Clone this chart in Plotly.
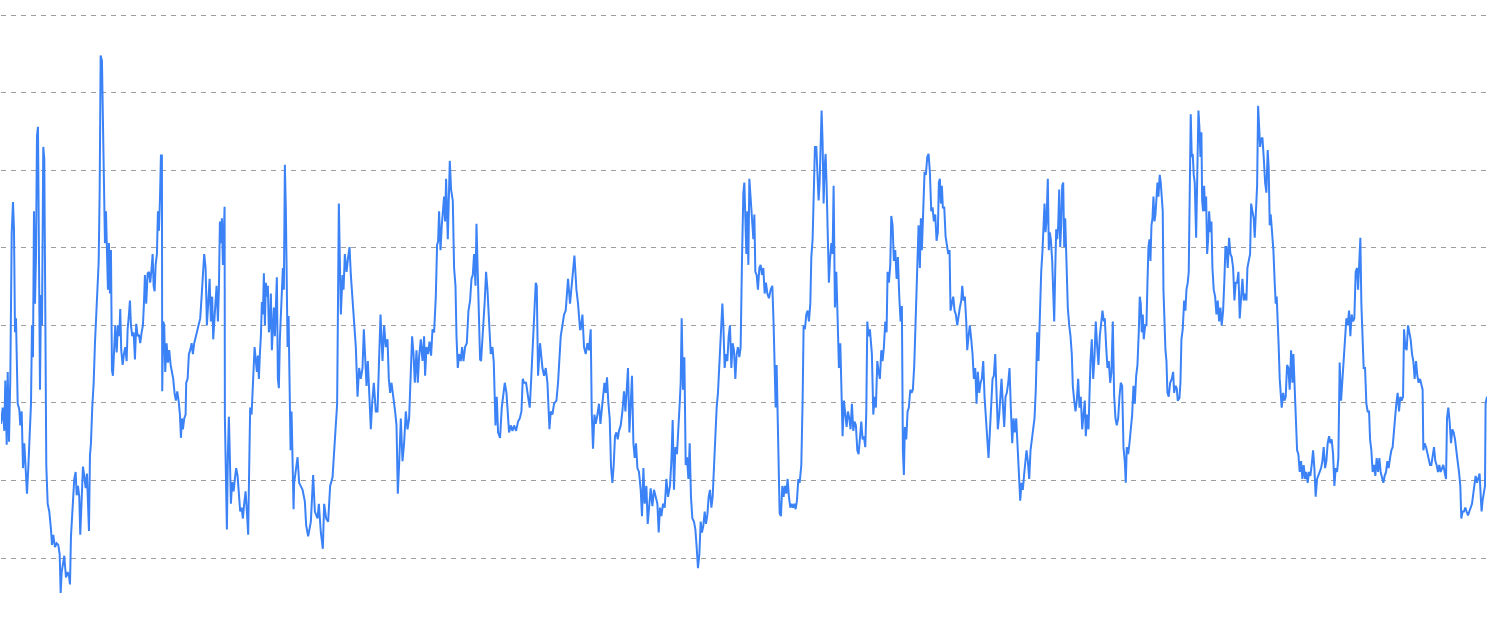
import plotly.graph_objects as go

seg_a = [(0,27.3),(1.7,29.4),(3.3,26.4),(4.3,32.9),(5.7,24.6),(6.7,34.0),(8.0,25.0),(9.3,33.1),(10.7,51.8),(12.0,55.9),(13.0,52.4),(14.0,39.1),(15.0,40.9),(15.7,35.4),(16.7,29.9),(18.3,29.2),(19.3,27.1),(20.7,28.9),(22.0,21.6),(23.3,24.8),(24.7,21.1),(26.0,18.3),(27.3,21.6),(28.7,27.1),(30.0,29.9),(31.0,40.0),(32.0,35.9),(33.0,54.7),(34.0,42.8),(35.0,48.8),(36.0,64.4),(37.0,65.6),(38.0,44.6),(39.0,31.7),(40.0,43.9),(41.0,40.0),(42.3,63.0),(43.3,61.4),(44.3,42.3),(45.3,22.0),(46.7,17.0),(48.3,16.0),(50.0,13.7),(51.0,11.7),(52.3,13.0),(54.0,11.4),(55.7,11.9),(57.3,11.7),(58.7,10.5),(59.7,5.5),(60.7,8.2),(62.0,9.6),(63.3,10.3),(65.0,7.5),(66.7,8.2),(68.0,7.7),(69.0,6.6),(70.0,12.8),(71.0,15.6),(72.3,17.4),(73.3,20.2),(74.7,21.1),(75.7,18.1),(77.0,19.3),(78.3,17.9),(79.3,13.0),(80.7,17.0),(82.0,21.8),(83.3,20.6),(84.7,19.0),(86.0,20.9),(87.0,15.1),(88.0,13.5),(89.0,23.2),(90.0,24.8),(91.3,29.4),(92.7,32.6),(94.0,37.7),(95.3,40.9),(96.7,44.6),(97.7,48.1),(98.7,57.1),(99.7,74.8),(101.0,74.1),(102.0,64.4),(103.0,57.5),(104.0,50.6),(105.0,54.7),(106.0,49.2),(107.0,44.6),(108.0,50.6),(109.0,44.1),(110.0,49.7),(111.0,34.2),(112.0,33.5),(113.3,37.2),(114.3,40.0),(115.7,36.5),(117.0,40.0),(118.3,38.6),(119.3,42.1),(120.3,36.8),(121.7,34.9),(123.0,36.3),(124.3,37.2),(125.7,35.4),(126.7,39.5),(128.0,41.4),(129.0,43.2),(130.0,40.0),(131.3,38.6),(132.7,39.1),(134.0,35.6),(135.3,40.2),(136.7,38.6),(138.0,38.8),(139.3,37.7),(140.7,39.1),(142.0,40.0),(143.0,42.8),(144.0,46.5),(145.3,42.8),(146.7,46.7),(148.0,46.9),(149.3,45.5),(150.7,47.4),(151.7,49.2),(152.7,45.1),(153.7,44.4),(154.7,47.8),(156.0,49.2),(157.0,54.7),(158.0,52.2),(159.0,56.1),(160.0,61.9),(161.0,61.9),(161.3,31.5),(162.3,40.5),(163.3,40.0),(164.3,34.0),(165.7,37.7),(167.0,35.2),(168.3,36.8),(169.7,34.9),(171.0,34.0),(172.3,33.1),(173.7,31.2),(175.0,30.3),(176.3,31.5),(177.7,30.3),(179.0,28.5),(180.0,25.5),(181.0,28.0),(182.0,26.6),(183.3,28.0),(184.7,28.5),(185.3,32.6),(186.7,33.1),(188.0,36.3),(189.3,36.8),(190.7,37.7),(192.0,36.3),(193.3,37.7),(195.0,38.6),(196.7,39.5),(198.0,40.5),(199.3,40.9),(200.7,43.7),(202.0,46.5),(203.3,49.2),(204.7,47.4),(206.0,40.0),(207.3,42.8),(208.7,46.0),(210.0,40.5),(211.3,43.7),(212.3,38.2),(213.3,40.9),(214.7,43.2),(215.7,45.1),(217.0,40.5),(218.0,44.6),(219.0,53.4),(220.0,50.6),(221.0,53.8),(222.0,47.8),(223.0,55.2),(223.7,55.3),(224.0,28.0),(225.0,18.8),(226.0,13.7),(227.0,23.4),(228.0,28.2),(229.0,22.9),(230.0,17.0),(231.3,19.8),(232.7,18.6),(234.0,20.2),(235.3,21.6),(236.7,20.6),(238.0,18.8),(239.3,16.0),(240.7,16.5),(242.0,15.1),(243.3,17.0),(244.7,18.6),(246.0,16.0),(247.3,13.0),(248.3,21.6),(249.3,29.4),(250.7,28.5),(251.7,31.7),(252.7,33.5),(253.7,37.2),(255.0,35.4),(256.0,34.0),(257.0,36.1),(258.0,33.1),(259.0,36.3),(260.0,38.6),(261.0,43.0),(262.0,41.4),(263.0,46.7),(264.0,40.0),(265.0,45.5),(266.0,43.7),(267.0,45.1),(268.0,39.1),(269.0,40.0),(270.0,44.1),(271.0,36.8),(272.0,40.9),(273.0,42.3),(274.0,38.6),(275.0,41.9),(276.0,46.2),(277.0,33.1),(278.0,31.9),(279.0,38.2),(280.0,41.9),(281.0,44.6),(282.0,47.4),(283.0,44.6),(284.0,60.7),(285.0,54.7),(285.7,46.5),(286.7,37.2),(287.7,41.2),(288.7,33.5),(289.7,23.9),(290.7,28.9),(291.7,19.7),(292.7,16.3)]

seg_b = [(293.3,19.7),(296.7,23.0),(298.3,19.7),(301.7,18.8),(304.0,17.3),(305.3,14.2),(307.3,12.8),(310.0,14.7),(312.3,20.7),(314.0,16.0),(316.7,15.1),(318.0,17.0),(320.0,13.3),(322.0,11.2),(323.3,17.0),(325.3,15.1),(327.3,14.7),(329.3,19.3),(331.7,20.4),(333.3,24.3),(334.7,27.1),(336.3,29.9),(338.0,55.7),(340.0,41.4),(341.7,46.5),(342.7,44.6),(344.0,49.2),(345.7,46.9),(347.3,48.8),(348.7,50.1),(350.0,46.5),(351.3,44.1),(353.3,40.0),(355.0,37.2),(356.7,30.8),(358.3,34.5),(360.0,33.1),(361.7,34.5),(363.0,39.5),(364.3,36.3),(365.7,32.2),(367.0,35.4),(368.3,31.7),(370.0,26.6),(371.3,29.9),(373.0,32.6),(375.0,28.9),(376.7,28.9),(378.0,34.5),(379.7,41.4),(381.7,35.4),(383.3,40.0),(385.0,37.2),(386.7,38.2),(388.0,33.1),(389.3,31.3),(390.7,32.6),(392.7,30.8),(394.3,28.9),(395.7,27.1),(397.0,18.3),(398.3,22.0),(400.0,28.0),(401.7,22.5),(403.3,24.8),(405.0,28.9),(406.7,26.6),(408.3,28.0),(410.0,34.5),(411.3,38.6),(412.7,36.3),(414.0,32.6),(415.7,36.8),(417.0,32.6),(418.3,35.9),(420.0,38.2),(421.7,35.4),(423.3,38.6),(424.3,33.5),(425.7,37.2),(427.3,36.3),(428.7,37.9),(430.3,36.1),(431.7,39.5),(433.3,39.1),(435.0,43.7),(436.3,50.4),(437.3,50.8),(438.3,54.7),(439.7,49.7),(441.0,52.9),(442.3,55.2),(443.3,56.6),(444.3,53.4),(445.3,58.9),(447.0,51.1),(448.0,56.1),(449.0,61.2),(450.3,57.5),(452.0,56.1),(453.3,47.4),(454.7,45.1),(455.7,38.6),(457.0,34.5),(458.3,36.3),(460.0,35.4),(461.3,37.2),(462.7,35.4),(464.3,37.2),(466.0,37.7),(467.7,41.9),(469.3,43.2),(470.7,46.0),(472.0,46.5),(473.3,49.2),(474.7,45.1),(475.7,53.1),(477.0,46.9),(478.0,41.9),(479.3,35.6),(480.3,35.4),(481.3,37.2),(482.7,40.9),(484.0,43.2),(485.3,46.9),(486.7,44.6),(488.3,40.5),(490.0,36.3),(491.7,37.2),(493.0,35.2),(494.7,27.1),(496.0,30.8),(497.3,26.2),(499.3,25.5),(501.0,29.4),(502.7,31.7),(504.0,32.6),(505.7,31.3),(508.3,26.2),(510.0,27.1),(511.7,26.4),(513.3,27.1),(515.3,26.4),(517.3,27.6),(519.0,28.0),(520.7,28.9),(522.0,33.1),(523.3,32.6),(525.3,32.6),(527.3,30.8),(529.0,29.4),(530.0,31.9),(531.7,36.3),(533.3,40.0),(535.0,45.5),(536.0,45.1),(537.3,33.5),(539.3,37.7),(541.7,34.5),(543.3,33.5),(545.0,34.5),(546.7,32.6),(548.7,26.6),(550.0,28.9),(551.7,28.5),(553.3,29.9),(555.7,30.3),(557.3,32.6),(558.7,35.4),(560.0,38.6),(561.7,40.0),(563.3,41.4),(565.0,41.9),(567.3,46.0),(569.3,42.8),(571.0,45.1),(572.0,46.5),(573.7,49.0),(575.7,44.6),(577.3,42.8),(579.3,39.5)]

seg_c = [(580.0,39.5),(581.7,41.4),(583.3,37.2),(585.0,36.3),(586.7,37.7),(588.3,36.8),(590.0,39.5),(591.0,28.9),(592.3,24.1),(593.7,28.5),(595.0,27.3),(596.7,28.5),(598.3,29.9),(599.7,27.3),(601.0,29.4),(602.3,31.3),(603.7,32.6),(605.0,31.3),(606.3,33.3),(607.7,29.9),(609.0,28.0),(610.3,21.8),(611.7,19.7),(613.0,22.0),(614.3,25.7),(615.7,26.2),(617.0,25.3),(618.3,26.4),(620.0,27.1),(621.7,28.9),(623.3,31.5),(624.7,28.9),(626.0,32.2),(627.3,34.5),(628.7,26.2),(630.0,30.3),(631.3,33.5),(632.7,24.8),(634.0,22.9),(635.3,24.8),(636.7,21.6),(638.3,21.1),(640.0,18.8),(641.3,15.4),(642.7,21.6),(644.0,17.0),(645.7,19.3),(647.0,14.4),(648.3,16.0),(650.0,19.0),(651.7,16.7),(653.3,18.8),(655.0,17.9),(656.7,17.0),(658.0,13.3),(659.3,16.5),(660.7,15.4),(662.3,17.0),(664.0,16.5),(665.7,20.2),(667.3,17.9),(669.3,19.3),(670.7,22.5),(672.0,27.8),(673.3,18.8),(674.7,24.3),(676.3,23.4),(677.7,26.2),(679.0,29.9),(680.0,32.6),(681.0,40.9),(682.3,31.7),(683.7,35.9),(685.0,22.0),(686.3,23.0),(687.7,20.2),(689.0,24.8),(690.3,17.9),(691.7,15.1),(693.3,14.7),(694.7,13.7),(696.0,11.4),(697.3,8.7),(698.7,10.5),(700.0,14.7),(701.3,13.3),(702.7,14.2),(704.0,16.0),(705.3,14.4),(706.7,15.6),(708.0,17.9),(709.3,18.8),(710.7,16.5),(712.0,17.9),(713.3,21.6),(714.7,26.2),(716.0,29.4),(717.3,31.3),(718.3,34.0),(719.3,36.3),(720.7,41.9),(721.7,42.8),(722.7,40.0),(724.0,34.5),(725.3,36.3),(726.7,35.4),(728.0,38.6),(729.3,40.0),(730.7,34.5),(732.0,37.7),(733.3,36.8),(734.7,33.1),(736.0,36.3),(737.3,37.2),(738.7,35.9),(740.0,37.2),(741.3,48.1),(742.7,57.1),(743.7,58.4),(744.7,53.8),(745.7,49.2),(746.7,54.7),(747.7,47.8),(748.7,58.9),(750.0,56.6),(751.3,54.3),(752.7,51.1),(753.7,54.3),(754.7,46.9),(756.0,46.5),(757.3,44.6),(758.7,47.4),(760.0,47.8),(761.3,46.5),(762.7,47.4),(764.0,44.1),(765.3,45.5),(766.7,44.1),(768.3,43.5),(770.0,44.6),(771.7,45.1),(773.0,40.0),(774.0,31.7),(775.0,29.4),(776.0,34.9),(777.0,28.9),(778.0,21.6),(779.0,15.8),(780.3,15.4),(781.7,19.3),(783.0,17.9),(784.3,19.3),(785.7,18.3),(787.0,20.2),(788.3,17.9),(789.7,16.5),(791.0,17.0),(792.3,16.5),(793.7,17.0),(795.0,16.3),(796.3,17.4),(797.7,20.2),(799.0,19.7),(800.7,22.0),(802.0,30.3),(803.0,40.0),(804.3,39.5),(805.7,41.4),(807.0,41.9),(808.3,40.5),(809.7,42.8),(810.7,48.8),(812.0,51.1),(813.3,58.9),(814.3,63.0),(815.7,63.0),(816.7,58.9),(818.0,56.1),(819.0,58.4),(820.0,65.4),(821.0,67.7),(822.0,63.5),(823.0,55.7),(824.0,60.3),(825.0,62.1),(826.0,58.0),(827.3,49.2),(828.3,45.5),(829.3,48.3),(830.7,50.6),(832.0,49.2),(833.0,58.0),(834.3,42.3),(835.7,46.9),(837.0,40.9),(838.3,34.5),(839.7,37.7),(840.7,32.6),(842.0,25.7),(843.3,30.3),(844.7,28.5),(846.0,26.9),(847.3,28.9),(848.7,28.0),(850.0,26.6),(851.3,29.9),(852.7,26.4),(854.0,27.6),(855.3,27.1),(856.7,23.9),(858.0,23.4),(859.3,26.2),(860.7,27.6),(862.0,25.3),(863.3,25.7),(864.7,24.3),(865.7,28.9),(866.7,40.5),(868.0,38.6),(869.3,39.5)]

seg_d = [(871.3,36.3),(872.7,28.5),(874.0,30.8),(875.3,29.4),(876.7,35.4),(878.0,34.0),(879.3,33.1),(880.7,36.8),(882.0,35.4),(883.3,37.2),(884.7,40.5),(886.0,39.1),(887.0,46.9),(888.3,45.5),(889.7,47.8),(890.7,54.1),(892.0,52.9),(893.3,48.3),(894.7,49.7),(896.0,46.0),(897.3,48.8),(898.7,43.7),(900.0,40.5),(901.3,42.5),(902.3,23.9),(903.3,20.7),(904.3,26.9),(905.7,25.3),(907.0,28.9),(908.3,29.4),(909.7,31.7),(911.0,31.3),(912.3,31.7),(913.7,34.9),(915.0,40.0),(916.0,44.6),(917.0,49.2),(918.0,52.9),(919.3,47.4),(920.3,53.8),(921.3,49.7),(922.3,54.7),(923.3,56.6),(924.0,59.8),(925.3,59.4),(926.7,61.7),(928.0,62.1),(929.3,59.8),(930.7,54.7),(932.0,55.2),(933.3,53.4),(934.7,54.3),(936.0,50.9),(937.3,52.0),(938.3,58.4),(939.3,58.9),(940.3,55.7),(941.3,58.0),(942.3,55.2),(943.7,55.2),(945.0,51.5),(946.3,50.6),(947.7,49.2),(949.0,49.7),(950.0,41.9),(951.3,42.8),(952.7,43.7),(954.0,41.9),(955.3,41.4),(956.7,40.0),(958.0,41.4),(959.3,42.3),(960.7,43.2),(961.7,45.1),(963.0,43.2),(964.3,43.7),(965.7,40.5),(966.7,36.8),(968.0,38.6),(969.3,40.0),(970.7,38.2),(972.0,36.3),(973.3,33.1),(974.7,34.5),(976.0,29.9),(977.3,34.0),(978.7,31.3),(980.0,32.6),(981.3,33.1),(982.7,35.4),(984.0,30.8),(985.3,28.0),(986.7,24.3),(988.0,22.9),(989.3,26.2),(990.7,29.4),(992.0,33.1),(993.3,33.5),(994.7,36.3),(996.0,31.3),(997.3,26.6),(998.7,28.5),(1000.0,30.8),(1001.0,33.1),(1002.3,29.9),(1003.7,26.9),(1005.0,30.8),(1006.3,31.3),(1007.7,32.6),(1009.0,34.5),(1010.3,29.4),(1011.7,24.8),(1013.0,28.0),(1014.3,26.2),(1015.7,28.0),(1017.0,24.3),(1018.3,21.1),(1019.7,17.4),(1021.0,19.7),(1022.3,18.8),(1023.7,20.9),(1025.0,23.4),(1026.0,23.9),(1027.3,22.5),(1028.7,20.2),(1030.0,23.9),(1031.3,25.3),(1032.7,27.1),(1034.0,28.0),(1035.3,31.7),(1036.7,39.1),(1038.0,35.4),(1039.3,42.8),(1040.7,46.9),(1042.0,49.7),(1043.0,52.9),(1044.0,55.7),(1045.0,52.0),(1046.0,53.4),(1047.3,58.9),(1048.3,49.7),(1049.3,52.0),(1050.3,51.1),(1051.7,48.3),(1052.7,43.7),(1053.7,40.5),(1054.7,46.9),(1055.7,52.4),(1056.7,51.1),(1057.7,52.9),(1058.7,57.5),(1059.7,50.1),(1060.7,52.9),(1061.7,58.0),(1062.7,58.4),(1063.7,50.1),(1064.7,53.8),(1066.0,47.4),(1067.3,42.3),(1068.7,40.0),(1070.0,38.6),(1071.3,36.3),(1072.3,32.2),(1073.7,30.3),(1075.0,28.9),(1076.3,30.3),(1077.7,33.1),(1079.0,29.4),(1080.3,30.8),(1081.7,26.6),(1083.0,28.5),(1084.3,30.3),(1085.3,25.7),(1086.7,28.5),(1088.0,26.6),(1089.0,32.2),(1090.0,35.4),(1091.3,38.2),(1092.7,33.1),(1094.0,35.9),(1095.3,40.5),(1096.7,37.2),(1098.0,34.9),(1099.3,38.6),(1100.7,40.5),(1102.0,41.9),(1103.3,40.5),(1104.3,40.9),(1105.7,37.2),(1107.0,34.5),(1108.3,35.4),(1109.7,32.6),(1111.0,34.0),(1112.3,40.5),(1113.7,30.8),(1115.0,28.0),(1116.3,27.1),(1117.7,28.0),(1119.0,30.8),(1120.3,32.6),(1121.7,32.2),(1123.0,24.3),(1124.3,22.5),(1125.3,19.7),(1126.3,24.3),(1127.7,23.4),(1129.0,24.8),(1130.3,27.1),(1131.7,28.5),(1133.0,32.2),(1134.3,29.9),(1135.7,33.5),(1137.0,34.9),(1138.3,39.1),(1139.3,43.7),(1140.3,42.8),(1141.3,39.1),(1142.3,41.4),(1143.3,38.2),(1144.7,40.0),(1146.0,40.0),(1147.0,45.5),(1148.0,50.1),(1149.0,51.1),(1150.0,48.3),(1151.0,52.9),(1152.0,53.8),(1153.0,56.6),(1154.0,53.4),(1155.0,54.3),(1156.0,57.5),(1157.0,58.4),(1158.0,56.6),(1159.3,59.4),(1160.3,58.4),(1161.3,56.6),(1162.3,54.7),(1163.0,44.6),(1164.0,40.0),(1165.0,36.8),(1166.0,35.4),(1167.0,31.3),(1168.3,30.8),(1169.7,32.6)]

seg_e = [(1171.3,33.1),(1172.7,34.0),(1173.7,31.3),(1175.0,32.2),(1176.3,31.9),(1177.3,30.3),(1179.0,30.6),(1180.0,32.6),(1181.0,38.2),(1182.3,39.5),(1183.7,43.2),(1185.0,41.9),(1186.0,44.6),(1187.3,45.5),(1188.3,46.9),(1189.3,59.4),(1190.3,67.2),(1191.3,61.7),(1192.3,62.1),(1193.3,59.4),(1194.3,58.4),(1195.7,51.3),(1196.7,61.7),(1198.0,67.7),(1199.0,65.4),(1200.0,61.7),(1201.0,64.9),(1201.7,56.1),(1202.7,54.7),(1203.7,58.0),(1204.7,54.7),(1205.7,56.6),(1206.7,49.2),(1207.7,51.1),(1208.7,54.7),(1210.0,52.0),(1211.0,53.4),(1212.0,47.4),(1213.3,44.6),(1214.7,43.7),(1216.0,41.4),(1217.3,43.2),(1218.7,40.5),(1220.0,42.3),(1221.3,40.0),(1222.7,41.9),(1224.0,46.0),(1225.0,50.1),(1226.0,50.1),(1227.3,47.4),(1228.7,51.3),(1230.0,49.2),(1231.3,48.8),(1232.7,47.4),(1234.0,43.2),(1235.3,45.5),(1236.7,45.5),(1238.0,46.9),(1239.3,40.9),(1240.7,43.7),(1242.0,46.0),(1243.3,43.2),(1244.7,44.1),(1246.0,43.2),(1247.0,47.4),(1248.3,48.3),(1249.7,49.2),(1250.7,55.7),(1252.0,54.7),(1253.3,53.8),(1254.3,51.3),(1255.7,55.2),(1256.7,58.0),(1257.7,68.3),(1258.7,64.9),(1259.7,63.0),(1260.7,64.0),(1262.0,64.2),(1263.3,61.7),(1264.7,58.4),(1266.0,57.1),(1267.3,62.6),(1268.3,60.3),(1269.3,52.9),(1270.3,54.3),(1271.7,52.4),(1273.0,49.7),(1274.3,45.5),(1275.3,42.8),(1276.3,43.7),(1277.3,40.9),(1278.3,37.2),(1279.3,33.1),(1280.3,31.3),(1281.3,29.4),(1282.7,31.3),(1284.0,30.3),(1285.3,30.8),(1286.7,34.9),(1288.0,34.5),(1289.3,31.7),(1290.7,36.8),(1292.0,32.6),(1293.0,36.3),(1294.0,32.6),(1295.3,28.0),(1296.7,23.9),(1298.0,23.4),(1299.3,21.1),(1300.7,22.5),(1302.0,20.2),(1303.3,22.0),(1304.7,20.2),(1306.0,21.1),(1307.3,19.7),(1308.7,21.1),(1310.0,20.6),(1311.3,22.0),(1312.7,23.9),(1314.0,21.6),(1315.3,17.9),(1316.7,20.2),(1318.0,20.6),(1319.3,21.1),(1320.7,21.6),(1322.0,22.5),(1323.3,24.3),(1324.7,21.6),(1326.0,22.5),(1327.3,24.8),(1328.7,25.7),(1330.0,24.8),(1331.3,25.3),(1332.7,23.4),(1334.0,19.3),(1335.3,21.6),(1336.7,21.1),(1338.0,22.9),(1339.3,35.2),(1340.7,30.3),(1342.0,32.6),(1343.3,35.4),(1344.7,38.6),(1346.0,40.9),(1347.3,40.0),(1348.7,41.9),(1350.0,38.6),(1351.3,41.4),(1352.7,40.5),(1354.0,40.9),(1355.3,46.9),(1356.7,47.4),(1357.7,44.6),(1359.0,48.3),(1360.0,51.3),(1361.0,42.8),(1362.0,38.2),(1363.3,34.5),(1364.7,34.5),(1366.0,29.9),(1367.3,28.9),(1368.7,28.9),(1369.7,25.3),(1371.0,23.9),(1372.3,21.1),(1373.7,22.0),(1375.0,20.6),(1376.3,22.9),(1377.7,21.1),(1379.0,22.9),(1380.3,21.1),(1381.7,20.2),(1383.0,19.7),(1384.3,20.6),(1385.7,21.1),(1387.0,22.5),(1388.3,21.6),(1389.7,22.9),(1391.0,23.9),(1392.3,24.3),(1393.3,26.2),(1394.7,28.0),(1396.0,29.9),(1397.3,31.3),(1398.7,28.9),(1400.0,30.8),(1401.3,30.3),(1402.7,30.8),(1403.7,39.5),(1405.0,37.2),(1406.3,36.8),(1407.7,40.0),(1409.0,39.1),(1410.3,38.2),(1411.7,36.3),(1413.0,35.4),(1414.3,33.1),(1415.7,35.4),(1417.0,33.5),(1418.3,32.6),(1419.7,33.1),(1421.0,32.2),(1422.3,31.7),(1423.0,23.9),(1424.3,24.8),(1425.7,24.3),(1427.0,23.4),(1428.3,22.9),(1429.7,22.0),(1431.0,22.0),(1432.3,22.9),(1433.7,24.3),(1435.0,22.5),(1436.3,22.0),(1437.7,21.1),(1439.0,22.0),(1440.3,21.1),(1441.7,21.6),(1443.0,22.0),(1444.3,21.1),(1445.7,20.2),(1446.7,28.0),(1448.0,29.4),(1449.3,27.6),(1450.7,24.8),(1452.0,26.6),(1453.3,26.2),(1454.7,25.3),(1456.0,23.4),(1457.3,22.5),(1458.7,21.1),(1460.0,19.3),(1461.0,15.1),(1462.3,16.0),(1463.7,16.0),(1465.0,16.5),(1466.3,16.0),(1467.7,15.5),(1469.0,16.0),(1470.3,16.5),(1471.7,17.0),(1473.0,18.3),(1474.3,19.3),(1475.3,20.6),(1476.7,19.7),(1478.0,20.2),(1479.3,20.9),(1480.3,18.3),(1481.3,16.0),(1482.3,17.4),(1483.7,18.8),(1484.7,19.3),(1485.3,29.9),(1486.7,30.8)]

grid_values = [10, 20, 30, 40, 50, 60, 70, 80]

points = seg_a + seg_b + seg_c + seg_d + seg_e
day = [p[0] for p in points]
value = [p[1] for p in points]

fig = go.Figure(
    go.Scatter(
        x=day, y=value, mode="lines",
        line=dict(color="#3b82f6", width=2),
        hoverinfo="skip",
    )
)
fig.update_layout(
    width=1489, height=634,
    margin=dict(l=1, r=2, t=5, b=10),
    paper_bgcolor="white", plot_bgcolor="white",
    showlegend=False,
)
fig.update_xaxes(range=[0, 1486.7], visible=False)
fig.update_yaxes(
    range=[1.5, 81.3], tickvals=grid_values, showticklabels=False,
    showgrid=True, gridcolor="#9e9e9e", gridwidth=1, griddash="5px,5px",
    zeroline=False, showline=False, ticks="",
)
fig.write_html(
    "out.html",
    config={"displayModeBar": False},
    post_script="document.body.style.margin='0';document.body.style.overflow='hidden';",
)
